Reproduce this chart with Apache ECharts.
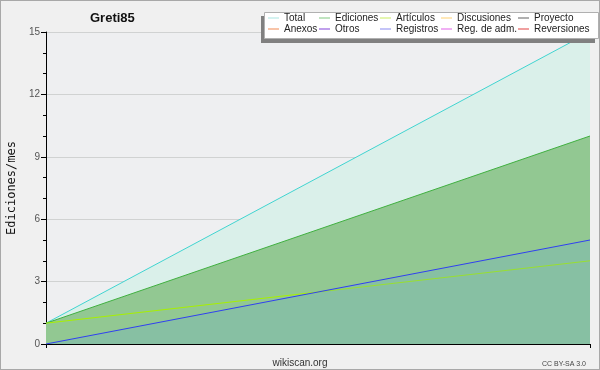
<!DOCTYPE html>
<html>
<head>
<meta charset="utf-8">
<script src="https://cdn.jsdelivr.net/npm/echarts@6/dist/echarts.min.js"></script>
<style>
  html, body { margin: 0; padding: 0; background: #f0f0f0; }
  #chart { width: 598px; height: 368px; border: 1px solid #a8a8a8; }
</style>
</head>
<body>
<div id="chart"></div>
<script>
// two sampled months, no labels shown on the axis
const categories = ["mes 1", "mes 2"];
const total = [1, 15];
const ediciones = [1, 10];
const articulos = [1, 4];
const registros = [0, 5];
const yTicks = [0, 3, 6, 9, 12, 15];

// legend columns, two rows each
const legendCols = [
  [["Total", "#a8e4e0"], ["Anexos", "#f08850"]],
  [["Ediciones", "#80c880"], ["Otros", "#8040d8"]],
  [["Artículos", "#c8ec60"], ["Registros", "#8888f0"]],
  [["Discusiones", "#ffd070"], ["Reg. de adm.", "#e060e8"]],
  [["Proyecto", "#606060"], ["Reversiones", "#e04040"]]
];
const legendLeft = [267, 318, 379, 440, 517];

const chart = echarts.init(document.getElementById("chart"));

const legends = legendCols.map(function (col, i) {
  return {
    left: legendLeft[i],
    top: 11.5,
    z: 60,
    orient: "vertical",
    padding: 0,
    itemGap: 0,
    itemWidth: 11,
    itemHeight: 1,
    selectedMode: false,
    icon: "rect",
    textStyle: { fontFamily: "Liberation Sans", fontSize: 10, lineHeight: 11, color: "#222" },
    data: col.map(function (it) {
      return { name: it[0], itemStyle: { color: it[1] } };
    })
  };
});

function line(name, data, color, area, z) {
  const s = {
    name: name,
    type: "line",
    data: data,
    symbol: "none",
    z: z,
    lineStyle: { color: color, width: 1 },
    itemStyle: { color: color }
  };
  if (area) s.areaStyle = { color: area, opacity: 1 };
  return s;
}

const emptyNames = ["Anexos", "Otros", "Discusiones", "Reg. de adm.", "Proyecto", "Reversiones"];

chart.setOption({
  backgroundColor: "#f0f0f0",
  animation: false,
  title: [
    { text: "Greti85", left: 84, top: 6, textStyle: { fontFamily: "Liberation Sans", fontSize: 13, fontWeight: "bold", color: "#111" } },
    { text: "wikiscan.org", left: "center", top: 352, textStyle: { fontFamily: "Liberation Sans", fontSize: 10, fontWeight: "normal", color: "#333" } },
    { text: "CC BY-SA 3.0", right: 8, top: 355, textStyle: { fontFamily: "Liberation Sans", fontSize: 7, fontWeight: "normal", color: "#444" } }
  ],
  graphic: [
    { type: "rect", shape: { x: 260, y: 15, width: 334, height: 27 }, style: { fill: "#808080" }, z: 50 },
    { type: "rect", shape: { x: 263.5, y: 11.5, width: 334, height: 26 }, style: { fill: "#fff", stroke: "#b0b0b0", lineWidth: 1 }, z: 51 }
  ],
  legend: legends,
  grid: {
    left: 45, right: 9, top: 31, bottom: 25,
    outerBoundsMode: "none",
    containLabel: false,
    show: true, backgroundColor: "#eeeff1", borderWidth: 0
  },
  xAxis: {
    type: "category",
    data: categories,
    boundaryGap: false,
    axisLine: { lineStyle: { color: "#000", width: 1 } },
    axisTick: { show: true, length: 4, lineStyle: { color: "#000" } },
    axisLabel: { show: false },
    splitLine: { show: false }
  },
  yAxis: {
    type: "value",
    min: yTicks[0],
    max: yTicks[yTicks.length - 1],
    interval: 3,
    name: "Ediciones/mes",
    nameLocation: "middle",
    nameRotate: 90,
    nameGap: 27,
    nameTextStyle: { fontFamily: "DejaVu Sans Mono", fontSize: 12, color: "#111" },
    axisLine: { show: true, lineStyle: { color: "#000", width: 1 } },
    axisTick: { show: true, length: 5, lineStyle: { color: "#000" } },
    minorTick: { show: true, splitNumber: 3, length: 3, lineStyle: { color: "#000" } },
    axisLabel: { fontFamily: "Liberation Sans", fontSize: 10, color: "#555", margin: 6 },
    splitLine: { show: true, lineStyle: { color: "#d0d2d2", width: 1 } }
  },
  series: [
    line("Total", total, "#40d4d0", "#daf0ea", 2),
    line("Ediciones", ediciones, "#40b040", "#92c892", 3),
    line("Artículos", articulos, "#a8f000", null, 4),
    line("Registros", registros, "#3040f0", "rgba(96,160,236,0.2)", 5)
  ].concat(emptyNames.map(function (n) {
    return { name: n, type: "line", data: [], symbol: "none" };
  }))
});
</script>
</body>
</html>
